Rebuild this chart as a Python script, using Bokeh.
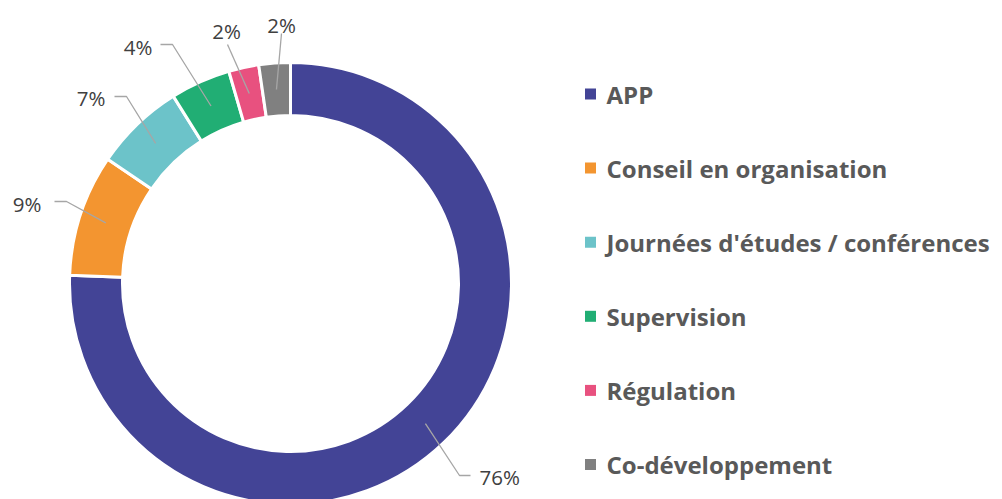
import math
from bokeh.plotting import figure
from bokeh.models import Range1d, ColumnDataSource
from bokeh.core.properties import value
from bokeh.embed import file_html
from bokeh.resources import INLINE

# ---- data ----
categories = ["APP", "Conseil en organisation", "Journées d'études / conférences",
              "Supervision", "Régulation", "Co-développement"]
shares = [75.6, 8.9, 6.6, 4.4, 2.2, 2.3]
colors = ["#434496", "#F39530", "#6CC3C9", "#21AE74", "#E8517F", "#808080"]

# ---- layout (pixel coordinates; y measured downward from top) ----
W, H = 1002, 499
CX, CY = 290, 283
R_OUT, R_IN = 221, 168

def Y(py):
    return H - py

p = figure(width=W, height=H, output_backend="svg", toolbar_location=None,
           x_range=Range1d(0, W), y_range=Range1d(0, H),
           min_border=0, background_fill_color="white", border_fill_color="white")
p.axis.visible = False
p.grid.visible = False
p.outline_line_color = None

total = float(sum(shares))
labels = [f"{round(100 * s / total)}%" for s in shares]
starts, ends, mids = [], [], []
cum = 0.0
for s in shares:
    a0 = math.pi / 2 - 2 * math.pi * cum / total
    cum += s
    a1 = math.pi / 2 - 2 * math.pi * cum / total
    starts.append(a0)
    ends.append(a1)
    mids.append((a0 + a1) / 2)

src = ColumnDataSource(dict(x=[CX] * len(shares), y=[Y(CY)] * len(shares),
                            start=starts, end=ends, color=colors))
p.annular_wedge(x="x", y="y", inner_radius=R_IN, outer_radius=R_OUT,
                start_angle="start", end_angle="end", direction="clock",
                fill_color="color", line_color="white", line_width=3, source=src)

# leader lines and labels: (elbow, end, text anchor, align)
label_layout = [
    ((459, 475), (470, 475), (479, 476), "left"),
    ((66, 201), (54, 201), (41, 203), "right"),
    ((126, 96), (114, 96), (105, 97), "right"),
    ((172, 44), (160, 44), (152, 46), "right"),
    ((227, 44), None, (226, 30), "center"),
    ((281, 33), None, (281, 24), "center"),
]
r_mid = (R_IN + R_OUT) / 2
for i, (elbow, end, tpos, align) in enumerate(label_layout):
    sx = CX + r_mid * math.cos(mids[i])
    sy = Y(CY) + r_mid * math.sin(mids[i])
    xs = [sx, elbow[0]]
    ys = [sy, Y(elbow[1])]
    if end is not None:
        xs.append(end[0])
        ys.append(Y(end[1]))
    p.line(xs, ys, line_color="#A6A6A6", line_width=1.3)
    p.text(x=[tpos[0]], y=[Y(tpos[1])], text=[labels[i]], text_align=align,
           text_baseline="middle", text_font=value("Open Sans"),
           text_font_size="20.5px", text_color="#404040")

# legend
LEG_X, LEG_Y0, LEG_DY = 590, 93.5, 74.1
for i, cat in enumerate(categories):
    yy = Y(LEG_Y0 + i * LEG_DY)
    p.rect(x=[LEG_X], y=[yy], width=11, height=11, fill_color=colors[i],
           line_color=None)
    p.text(x=[606], y=[yy], text=[cat], text_align="left", text_baseline="middle",
           text_font=value("Open Sans"), text_font_style="bold",
           text_font_size="24px", text_color="#595959")

open("out.html", "w").write(file_html(p, INLINE))
